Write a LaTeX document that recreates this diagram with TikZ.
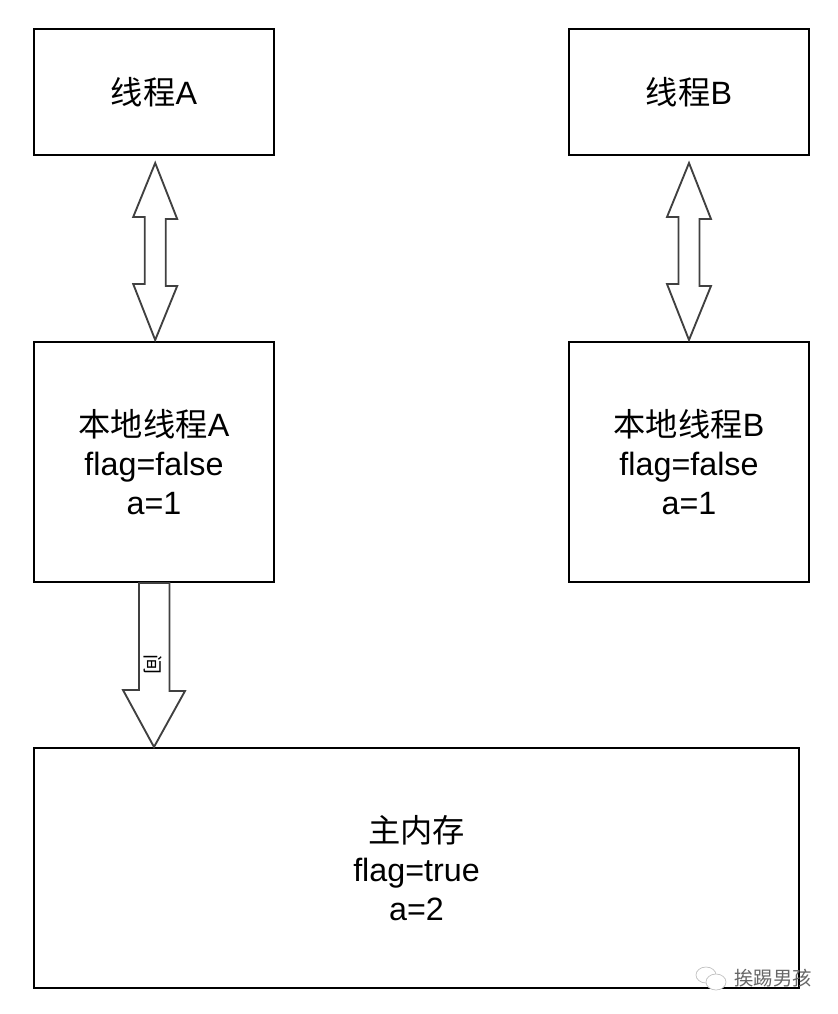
\documentclass[tikz,border=0pt]{standalone}
\usepackage{fontspec}
\usepackage{tikz}
\usetikzlibrary{calc}
\setmainfont{Liberation Sans}
\newfontfamily\cjk{Noto Sans CJK SC}
\tikzset{
    memorybox/.style={draw=black, line width=1.5pt, align=center, font=\fontsize{24.2}{29.5}\selectfont, inner sep=0pt},
    blockarrow/.style={draw=black!75, line width=1.4pt, fill=white, line join=miter}
}
\begin{document}
\begin{tikzpicture}[x=0.75pt, y=-0.75pt]
    \useasboundingbox (0,0) rectangle (838,1014);

    \node[memorybox, minimum width=180pt, minimum height=94.5pt] (threadA) at (154,92) {{\cjk 线程}A};
    \node[memorybox, minimum width=180pt, minimum height=94.5pt] (threadB) at (689,92) {{\cjk 线程}B};
    \node[memorybox, minimum width=180pt, minimum height=180pt] (localA) at (154,462) {{\cjk 本地线程}A\\flag=false\\a=1};
    \node[memorybox, minimum width=180pt, minimum height=180pt] (localB) at (689,462) {{\cjk 本地线程}B\\flag=false\\a=1};
    \node[memorybox, minimum width=573.75pt, minimum height=180pt] (mainMem) at (416.5,868) {{\cjk 主内存}\\flag=true\\a=2};

    % double arrows between each thread and its local copy
    \foreach \a/\b/\d in {threadA/localA/1.2, threadB/localB/0}
        \draw[blockarrow] ($(\a.south)+(\d,7)$) -- ++(22,56) -- ++(-11.5,0) -- ++(0,67) -- ++(11.5,0)
            -- ($(\b.north)+(\d,-1)$) -- ++(-22,-56) -- ++(11.5,0) -- ++(0,-67) -- ++(-11.5,0) -- cycle;

    \draw[blockarrow] ($(localA.south)+(-15,0)$) -- ++(30.5,0) -- ++(0,108) -- ++(15.5,0)
        -- (mainMem.north -| localA.south) -- ++(-31,-57) -- ++(16,0) -- cycle;
    \node[rotate=-90, font=\cjk\fontsize{15}{15}\selectfont, inner sep=0pt] (flushLabel) at (153,664) {间};

    % watermark
    \node[text=black!60, font=\cjk\fontsize{14.5}{14.5}\selectfont, inner sep=0pt] (wechatName) at (773,978) {挨踢男孩};
    \draw[black!25, line width=0.5pt, fill=white] (706,975) ellipse (10 and 8);
    \draw[black!25, line width=0.5pt, fill=white] (716,982) ellipse (10 and 8);
\end{tikzpicture}
\end{document}
